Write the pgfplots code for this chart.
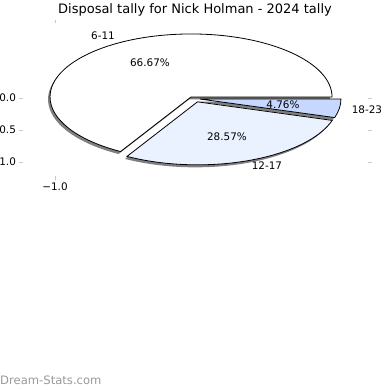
\documentclass[border=0pt]{standalone}
\usepackage{fontspec}
\setmainfont{DejaVu Sans}
\usepackage{pgfplots}
\pgfplotsset{compat=1.18}
\definecolor{wA}{RGB}{255,255,255}
\definecolor{wB}{RGB}{234,241,255}
\definecolor{wC}{RGB}{198,216,255}
\definecolor{tickgray}{RGB}{200,200,200}
% percentages of the three slices
\def\pA{66.67}\def\pB{28.57}\def\pC{4.76}
\begin{document}
\begin{tikzpicture}[x=1bp,y=1bp]
\useasboundingbox (0bp,0bp) rectangle (390bp,390bp);
\pgfmathsetmacro\aA{3.6*\pA}
\pgfmathsetmacro\aB{\aA+3.6*\pB}
\pgfmathsetmacro\aC{\aB+3.6*\pC}
\begin{axis}[
  x=137bp, y=64bp,
  xmin=-1.234, xmax=1.285, ymin=-1.22, ymax=1.17,
  anchor=origin, at={(192bp,292bp)},
  clip=false,
  axis line style={draw=none},
  tick pos=both,
  tick align=outside,
  major tick length=3.5bp,
  tick style={draw=tickgray, line width=0.9bp},
  xtick={-1}, xticklabels={−1.0},
  ytick={0,-0.5,-1}, yticklabels={0.0,−0.5,−1.0},
  ticklabel style={font=\fontsize{10.4bp}{12bp}\selectfont},
  /pgf/number format/assume math mode=true,
]
% shadows
\fill[black!50] ([shift={(-2bp,-2.5bp)}]axis cs:-0.007,0.016) -- ++(0:141bp and 63bp) arc[start angle=0,end angle=\aA,x radius=141bp,y radius=63bp] -- cycle;
\fill[black!50] ([shift={(-2bp,-2.5bp)}]axis cs:0.04,-0.06) -- ++(\aA:141bp and 63bp) arc[start angle=\aA,end angle=\aB,x radius=141bp,y radius=63bp] -- cycle;
\fill[black!50] ([shift={(-2bp,-2.5bp)}]axis cs:0.058,-0.016) -- ++(\aB:141bp and 63bp) arc[start angle=\aB,end angle=\aC,x radius=141bp,y radius=63bp] -- cycle;
% wedges
\filldraw[fill=wA, draw=black, line width=0.8bp, line join=miter] (axis cs:-0.007,0.016) -- ++(0:141bp and 63bp) arc[start angle=0,end angle=\aA,x radius=141bp,y radius=63bp] -- cycle;
\filldraw[fill=wB, draw=black, line width=0.8bp, line join=miter] (axis cs:0.04,-0.06) -- ++(\aA:141bp and 63bp) arc[start angle=\aA,end angle=\aB,x radius=141bp,y radius=63bp] -- cycle;
\filldraw[fill=wC, draw=black, line width=0.8bp, line join=miter] (axis cs:0.058,-0.016) -- ++(\aB:141bp and 63bp) arc[start angle=\aB,end angle=\aC,x radius=141bp,y radius=63bp] -- cycle;
% labels
\node[font=\fontsize{10.4bp}{12bp}\selectfont] at (axis cs:-0.650,0.969) {6-11};
\node[font=\fontsize{10.4bp}{12bp}\selectfont] at (axis cs:-0.307,0.547) {66.67\%};
\node[font=\fontsize{10.4bp}{12bp}\selectfont] at (axis cs:0.664,-0.109) {4.76\%};
\node[font=\fontsize{10.4bp}{12bp}\selectfont] at (axis cs:1.277,-0.188) {18-23};
\node[font=\fontsize{10.4bp}{12bp}\selectfont] at (axis cs:0.255,-0.609) {28.57\%};
\node[font=\fontsize{10.4bp}{12bp}\selectfont] at (axis cs:0.547,-1.0625) {12-17};
\end{axis}
\node[font=\fontsize{13bp}{15bp}\selectfont] at (195bp,380bp) {Disposal tally for Nick Holman - 2024 tally};
\node[anchor=west, inner sep=0pt, text=black!40, font=\fontsize{11.6bp}{13bp}\selectfont] at (0bp,10bp) {Dream-Stats.com};
\end{tikzpicture}
\end{document}
